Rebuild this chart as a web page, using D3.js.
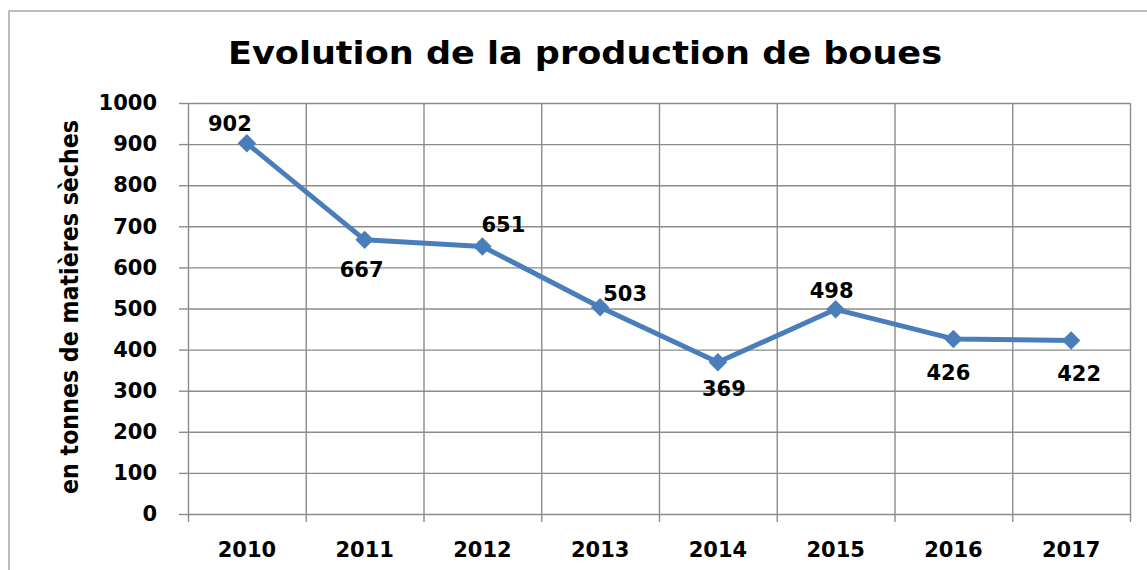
<!DOCTYPE html>
<html>
<head>
<meta charset="utf-8">
<script src="https://cdn.jsdelivr.net/npm/d3@7"></script>
<style>
  body { margin: 0; background: #fff; }
  text { font-family: "DejaVu Sans", sans-serif; font-weight: bold; fill: #000; }
  .grid line, .grid path { stroke: #8c8c8c; stroke-width: 1.4; }
  .axis path { display: none; }
  .axis line { stroke: #8c8c8c; stroke-width: 1.4; }
</style>
</head>
<body>
<div id="chart-area"></div>
<script>
// chart data
let years = ["2010", "2011", "2012", "2013", "2014", "2015", "2016", "2017"];
let production = [902, 667, 651, 503, 369, 498, 426, 422];
let yTicks = [0, 100, 200, 300, 400, 500, 600, 700, 800, 900, 1000];
// where each value label sits relative to its point: [dx, dy]
let labelOffsets = [[-17, -12], [-3, 37], [21, -14], [25, -6], [6, 34], [-4, -11], [-5, 41], [8, 40]];

let margin = {top: 103, right: 17, bottom: 56, left: 188};
let width = 1147 - margin.left - margin.right;
let height = 570 - margin.top - margin.bottom;

let root = d3.select("#chart-area").append("svg")
	.attr("width", 1147)
	.attr("height", 570);

// outer chart border (runs off the page on right and bottom)
root.append("rect")
	.attr("x", 9).attr("y", 11)
	.attr("width", 1160).attr("height", 600)
	.attr("fill", "none")
	.attr("stroke", "#a6a6a6")
	.attr("stroke-width", 1.5);

// title
root.append("text")
	.attr("x", 585).attr("y", 64)
	.attr("text-anchor", "middle")
	.attr("font-size", 32)
	.attr("textLength", 714)
	.attr("lengthAdjust", "spacingAndGlyphs")
	.text("Evolution de la production de boues");

// y axis title
root.append("text")
	.attr("transform", "translate(78,307) rotate(-90)")
	.attr("text-anchor", "middle")
	.attr("font-size", 25)
	.attr("textLength", 374)
	.attr("lengthAdjust", "spacingAndGlyphs")
	.text("en tonnes de matières sèches");

let svg = root.append("g")
	.attr("transform", "translate(" + margin.left + "," + margin.top + ")");

// scales
let xScale = d3.scaleBand().domain(years).range([0, width]);
let xEdges = d3.scaleLinear().domain([0, years.length]).range([0, width]);
let yScale = d3.scaleLinear().domain([0, 1000]).range([height, 0]);

// horizontal grid lines
svg.append("g")
	.attr("class", "grid")
	.call(d3.axisLeft(yScale).tickValues(yTicks).tickSize(-width).tickFormat(""))
	.select(".domain").remove();

// vertical grid lines on category boundaries, with ticks below the axis
svg.append("g")
	.attr("class", "grid")
	.attr("transform", "translate(0," + height + ")")
	.call(d3.axisBottom(xEdges).tickValues(d3.range(years.length + 1)).tickSizeInner(-height).tickSizeOuter(0).tickFormat(""))
	.call(g => g.select(".domain").remove())
	.call(g => g.selectAll(".tick").append("line")
		.attr("y1", 0).attr("y2", 8)
		.attr("stroke", "#8c8c8c").attr("stroke-width", 1.4));

// y axis: outward ticks and labels
svg.append("g")
	.attr("class", "axis")
	.call(d3.axisLeft(yScale).tickValues(yTicks).tickSize(9).tickPadding(22).tickFormat(d3.format("d")))
	.selectAll("text")
	.attr("font-size", 21)
	.attr("font-family", null);

// x axis labels
svg.append("g")
	.attr("class", "axis")
	.attr("transform", "translate(0," + height + ")")
	.call(d3.axisBottom(xScale).tickSize(0).tickPadding(28))
	.selectAll("text")
	.attr("font-size", 21)
	.attr("font-family", null);

let cx = (d, i) => xScale(years[i]) + xScale.bandwidth() / 2;

// the line
svg.append("path")
	.datum(production)
	.attr("fill", "none")
	.attr("stroke", "#4a7ebb")
	.attr("stroke-width", 5)
	.attr("stroke-linejoin", "round")
	.attr("d", d3.line()
		.x(cx)
		.y(d => yScale(d))
	);

// diamond markers
svg.selectAll(".marker")
	.data(production)
	.enter().append("path")
	.attr("class", "marker")
	.attr("d", d3.symbol().type(d3.symbolSquare).size(170))
	.attr("transform", (d, i) => "translate(" + cx(d, i) + "," + yScale(d) + ") rotate(45)")
	.attr("fill", "#4a7ebb");

// value labels
svg.selectAll(".value-label")
	.data(production)
	.enter().append("text")
	.attr("class", "value-label")
	.attr("x", (d, i) => cx(d, i) + labelOffsets[i][0])
	.attr("y", (d, i) => yScale(d) + labelOffsets[i][1])
	.attr("text-anchor", "middle")
	.attr("font-size", 21)
	.text(d => d);
</script>
</body>
</html>
